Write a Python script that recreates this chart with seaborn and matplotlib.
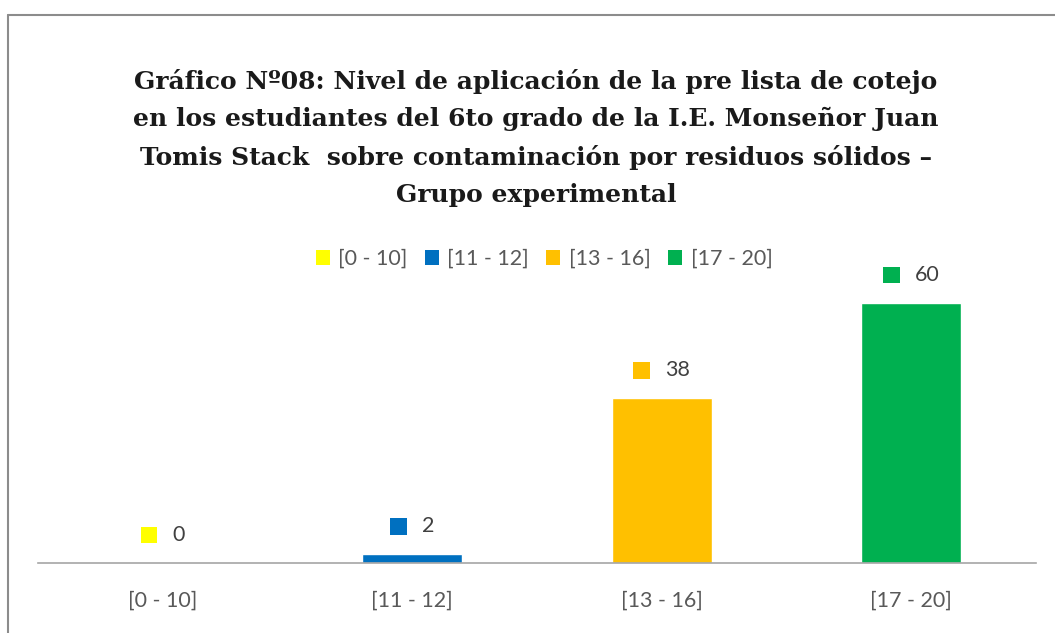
import matplotlib.pyplot as plt
import seaborn as sns
import pandas as pd
from matplotlib.patches import Rectangle
from matplotlib.offsetbox import AnnotationBbox, HPacker, DrawingArea, TextArea

# data
categories = ['[0 - 10]', '[11 - 12]', '[13 - 16]', '[17 - 20]']
values = [0, 2, 38, 60]
colors = ['#FFFF00', '#0070C0', '#FFC000', '#00B050']

title = ('Gráfico Nº08: Nivel de aplicación de la pre lista de cotejo\n'
         'en los estudiantes del 6to grado de la I.E. Monseñor Juan\n'
         'Tomis Stack  sobre contaminación por residuos sólidos –\n'
         'Grupo experimental')

df = pd.DataFrame({'rango': categories, 'pct': values})

sns.set_theme(style='white')
plt.rcParams['font.family'] = ['Lato', 'DejaVu Sans']
gray = '#595959'

fig = plt.figure(figsize=(10.55, 6.33), dpi=100)
ax = fig.add_axes([38 / 1055, 70 / 633, 998 / 1055, 303.3 / 633])

sns.barplot(data=df, x='rango', y='pct', hue='rango', palette=colors,
            width=0.4, dodge=False, legend=False, ax=ax, saturation=1)

ax.set_ylim(0, 70)
ax.set_xlim(-0.5, 3.5)
ax.set_xlabel('')
ax.set_ylabel('')
ax.set_yticks([])
for side in ['top', 'right', 'left']:
    ax.spines[side].set_visible(False)
ax.spines['bottom'].set_color('#a6a6a6')
ax.spines['bottom'].set_linewidth(1.2)
ax.tick_params(axis='x', length=0, pad=20, labelsize=15.5, labelcolor=gray)

# data labels with colour key
for i, (v, c) in enumerate(zip(values, colors)):
    da = DrawingArea(12, 12, 0, 0)
    da.add_artist(Rectangle((0, 0), 12, 12, facecolor=c, edgecolor='none'))
    txt = TextArea(str(v), textprops=dict(color='#404040', fontsize=15.5, family=['Lato', 'DejaVu Sans']))
    box = HPacker(children=[da, txt], align='center', pad=0, sep=11)
    ab = AnnotationBbox(box, (i, v), xybox=(0, 28), xycoords='data',
                        boxcoords='offset pixels', box_alignment=(0.5, 0.5),
                        frameon=False, annotation_clip=False)
    ax.add_artist(ab)

# legend
handles = [Rectangle((0, 0), 1, 1, facecolor=c, edgecolor='none') for c in colors]
fig.legend(handles, categories, loc='center', bbox_to_anchor=(544 / 1055, 1 - 259 / 633),
           ncol=4, frameon=False, fontsize=15.5, handlelength=0.65, handleheight=0.65,
           handletextpad=0.4, columnspacing=0.8, labelcolor=gray)

fig.text(536 / 1055, 1 - 138 / 633, title, ha='center', va='center',
         fontsize=18, fontweight='bold', family=['DejaVu Serif'], color='#1a1a1a',
         linespacing=1.68)

# chart frame
fig.add_artist(plt.Line2D([8 / 1055, 8 / 1055], [0, 1 - 15 / 633], transform=fig.transFigure,
                          color='#8c8c8c', linewidth=1.5))
fig.add_artist(plt.Line2D([8 / 1055, 1], [1 - 15 / 633, 1 - 15 / 633], transform=fig.transFigure,
                          color='#8c8c8c', linewidth=1.5))

fig.savefig('out.png', dpi=100)
plt.close(fig)
